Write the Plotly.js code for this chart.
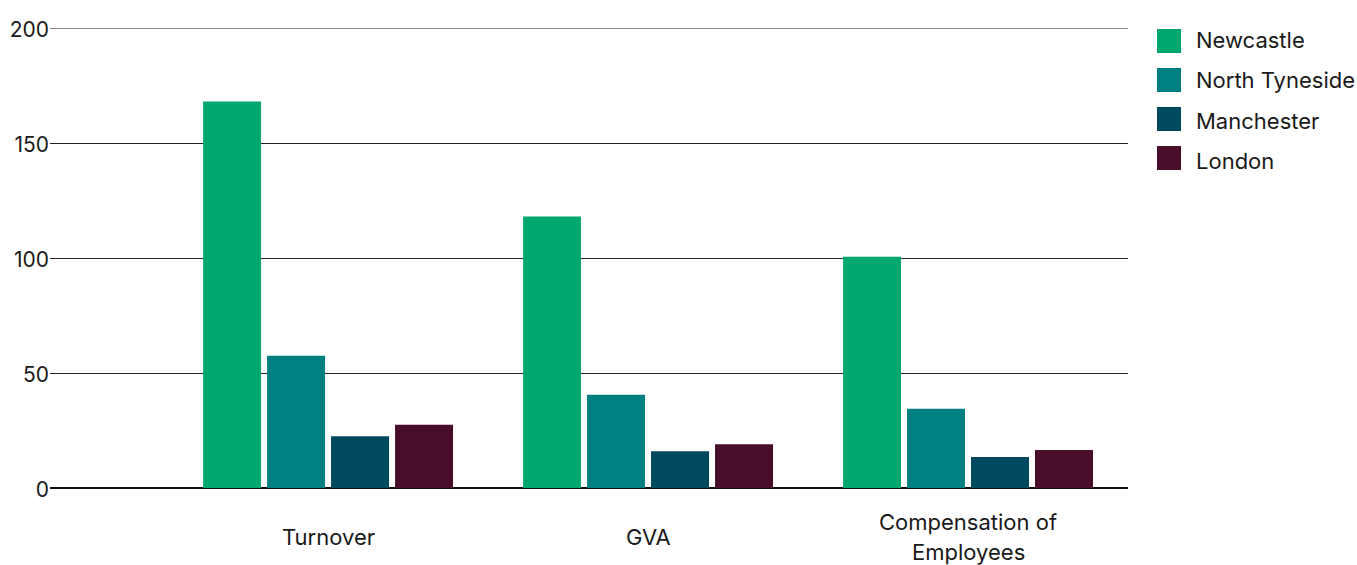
<!DOCTYPE html>
<html>
<head>
<meta charset="utf-8">
<script src="https://cdn.plot.ly/plotly-3.0.1.min.js"></script>
<style>
  html, body { margin: 0; padding: 0; background: #ffffff; }
  #chart { width: 1357px; height: 565px; }
</style>
</head>
<body>
<div id="chart"></div>
<script>
// Measures and their axis labels
const categories = ['Turnover', 'GVA', 'Compensation of Employees'];
const categoryLabels = [['Turnover'], ['GVA'], ['Compensation of', 'Employees']];

// Series names and colours
const seriesNames = ['Newcastle', 'North Tyneside', 'Manchester', 'London'];
const seriesColors = ['#00A870', '#007F80', '#01495F', '#470D29'];

// Values per series, in the order of the categories
const newcastle = [168, 118, 100.5];
const northTyneside = [57.5, 40.5, 34.5];
const manchester = [22.5, 16, 13.5];
const london = [27.5, 19, 16.5];
const seriesValues = [newcastle, northTyneside, manchester, london];

const yTicks = [0, 50, 100, 150, 200];

const W = 1357, H = 565;
const M = { l: 50, r: 229, t: 28, b: 77 };
const plotW = W - M.l - M.r;
const plotH = H - M.t - M.b;
const px2x = px => (px - M.l) / plotW;
const px2y = py => (H - M.b - py) / plotH;

const FONT = 'Inter, Roboto, sans-serif';
const TEXT = '#1a1a1a';
const FS = 22;

const traces = seriesNames.map((name, i) => ({
  type: 'bar',
  name: name,
  x: categories,
  y: seriesValues[i],
  marker: { color: seriesColors[i], line: { width: 0 } },
  hoverinfo: 'x+y+name'
}));

const shapes = [];
const annotations = [];

// Top gridline drawn lighter and heavier than the others
shapes.push({
  type: 'line', xref: 'paper', yref: 'y',
  x0: 0, x1: 1, y0: 200, y1: 200,
  line: { color: '#888888', width: 2 }, layer: 'above'
});

// Legend: square swatches with labels on the right
const swatchTop = 29, swatchStep = 39, sw = 24;
const labelTop = 39.5, labelStep = 40.5;
seriesNames.forEach((name, i) => {
  const top = swatchTop + i * swatchStep;
  shapes.push({
    type: 'rect', xref: 'paper', yref: 'paper',
    x0: px2x(1157), x1: px2x(1157 + sw),
    y0: px2y(top + sw), y1: px2y(top),
    fillcolor: seriesColors[i], line: { width: 0 }
  });
  annotations.push({
    xref: 'paper', yref: 'paper',
    x: px2x(1194), y: px2y(labelTop + i * labelStep),
    xanchor: 'left', yanchor: 'middle',
    text: name, showarrow: false,
    font: { family: FONT, size: FS, color: TEXT }
  });
});

// Category labels under the bars, lines spread around a common centre
const labelCentre = 536.5, lineGap = 30;
categories.forEach((c, i) => {
  const lines = categoryLabels[i];
  lines.forEach((ln, j) => {
    const cy = labelCentre + (j - (lines.length - 1) / 2) * lineGap;
    annotations.push({
      xref: 'x', yref: 'paper',
      x: c, y: px2y(cy),
      xanchor: 'center', yanchor: 'middle',
      text: ln, showarrow: false, borderpad: 0,
      font: { family: FONT, size: FS, color: TEXT }
    });
  });
});

const layout = {
  width: W, height: H,
  margin: M,
  paper_bgcolor: '#ffffff',
  plot_bgcolor: '#ffffff',
  showlegend: false,
  barmode: 'group',
  bargap: 0.2,
  bargroupgap: 0.094,
  font: { family: FONT, size: FS, color: TEXT },
  xaxis: {
    type: 'category',
    range: [-0.869, 2.5],
    showticklabels: false,
    showgrid: false,
    zeroline: false,
    showline: false,
    ticks: ''
  },
  yaxis: {
    range: [0, 200],
    tickvals: yTicks,
    ticktext: yTicks.map(String),
    showgrid: true,
    gridcolor: '#222222',
    gridwidth: 1,
    zeroline: true,
    zerolinecolor: '#111111',
    zerolinewidth: 1.5,
    showline: false,
    ticks: '',
    ticklabelstandoff: 0,
    ticklabelshift: 2,
    tickfont: { family: FONT, size: 21, color: TEXT }
  },
  shapes: shapes,
  annotations: annotations
};

Plotly.newPlot('chart', traces, layout, { displayModeBar: false, staticPlot: true });
</script>
</body>
</html>
